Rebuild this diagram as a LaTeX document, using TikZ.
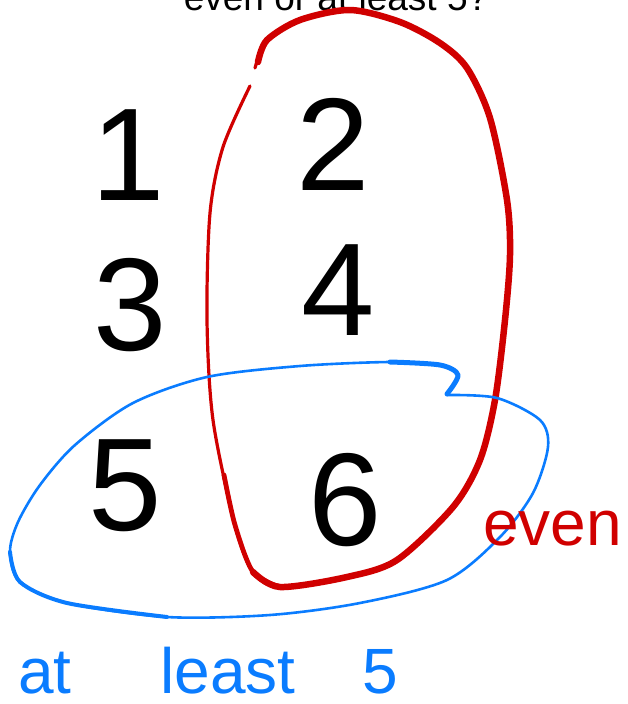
\documentclass[tikz,border=0pt]{standalone}
\usepackage{fontspec}
\setmainfont{Liberation Sans}
\definecolor{sketchred}{RGB}{208,0,0}
\definecolor{sketchblue}{RGB}{10,124,255}
\begin{document}
\begin{tikzpicture}[x=1pt,y=-1pt,
  digit/.style={font=\fontsize{132}{132}\selectfont, inner sep=0pt, anchor=base},
  penlabel/.style={font=\fontsize{64}{64}\selectfont, inner sep=0pt, text depth=0pt, anchor=base west},
  redpen/.style={draw=sketchred, line cap=round, line join=round},
  bluepen/.style={draw=sketchblue, line cap=round, line join=round}]
\useasboundingbox (0,0) rectangle (628,704);
\clip (0,0) rectangle (628,704);
\node[font=\fontsize{37}{37}\selectfont, inner sep=0pt, anchor=base] (question) at (336,10) {even or at least 5?};
\node[digit] (n1) at (128,200) {1};
\node[digit] (n2) at (333,190) {2};
\node[digit] (n3) at (130,350) {3};
\node[digit] (n4) at (338,335) {4};
\node[digit] (n5) at (125,530) {5};
\node[digit] (n6) at (345,545) {6};
\draw[redpen, line width=3.2pt] plot[smooth] coordinates {(255,68) (267,40) (300,20) (350,10) (400,22) (440,43) (467,68) (490,118) (507,200) (510,255) (505,320) (495,400) (480,460) (453,507) (397,560) (347,577) (280,587) (253,572) (235,525) (213,420) (207,320) (210,213) (223,147) (250,86)};
\draw[redpen, line width=6.5pt] plot[smooth] coordinates {(258,62) (267,40) (300,20) (350,10) (400,22) (440,43) (467,68) (490,118) (507,200) (510,255) (505,320) (495,400) (480,460) (453,507) (397,560) (347,577) (280,587) (253,572)};
\draw[redpen, line width=4.8pt] plot[smooth] coordinates {(280,587) (253,572) (235,525) (224,475)};
\draw[bluepen, line width=2.6pt] plot[smooth] coordinates {(447,395) (497,398) (540,420) (548,447) (533,493) (500,537) (447,580) (360,603) (270,615) (167,617) (67,603) (20,582) (10,552) (18,522) (40,485) (75,445) (133,403) (207,377) (300,366) (390,362) (440,365) (458,375) (447,394)};
\draw[bluepen, line width=5pt] plot[smooth] coordinates {(390,362) (440,365) (458,375) (447,394)};
\draw[bluepen, line width=4pt] plot[smooth] coordinates {(167,617) (67,603) (20,582) (10,552)};
\node[penlabel, text=sketchred] (even) at (483,545) {even};
\node[penlabel, text=sketchblue] (atleast) at (18,693) {at\hspace{89pt}least\hspace{67pt}5};
\end{tikzpicture}
\end{document}
